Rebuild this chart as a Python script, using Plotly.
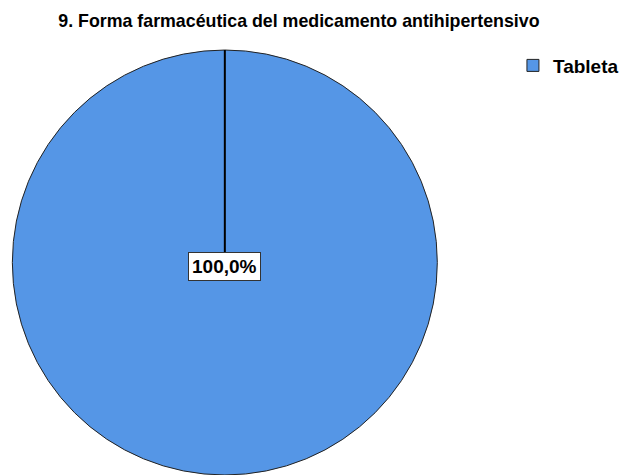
import plotly.graph_objects as go

categories = ["Tableta"]
values = [100.0]
colors = ["#5596E6"]
title_text = "9. Forma farmacéutica del medicamento antihipertensivo"

W, H = 624, 475
dom_x = [0.0, 0.7276]
dom_y = [0.0, 0.8947]

total = sum(values)
labels_pct = [f"{100*v/total:.1f}".replace(".", ",") + "%" for v in values]

fig = go.Figure(go.Pie(
    labels=["<b>" + c + "</b>" for c in categories], values=values,
    marker=dict(colors=colors, line=dict(color="#222222", width=1)),
    textinfo="none", sort=False, direction="clockwise", rotation=0,
    domain=dict(x=dom_x, y=dom_y), hoverinfo="label+percent",
    showlegend=True,
))

cx = (dom_x[0] + dom_x[1]) / 2
cy = (dom_y[0] + dom_y[1]) / 2
r_paper = (dom_y[1] - dom_y[0]) / 2
# radial separator from centre to top of pie
fig.add_shape(type="line", xref="paper", yref="paper",
              x0=cx, y0=cy, x1=cx, y1=cy + r_paper,
              line=dict(color="black", width=2))
fig.add_annotation(x=cx, y=cy - 0.008, xref="paper", yref="paper",
                   text="<b>" + labels_pct[0] + "</b>", showarrow=False,
                   font=dict(family="Liberation Sans, Arial", size=19, color="black"),
                   bgcolor="white", bordercolor="#333333", borderwidth=1, borderpad=3)

fig.update_layout(
    width=W, height=H,
    margin=dict(l=0, r=0, t=0, b=0),
    paper_bgcolor="white", plot_bgcolor="white",
    title=dict(text="<b>" + title_text + "</b>", x=0.479, xanchor="center", y=0.956, yanchor="middle",
               font=dict(family="Liberation Sans, Arial", size=17.8, color="black")),
    legend=dict(x=0.83, y=0.902, xanchor="left", yanchor="top",
                font=dict(family="Liberation Sans, Arial", size=19, color="black"),
                itemwidth=30),
    showlegend=True,
)

fig.write_html("out.html", config={"displayModeBar": False},
               post_script="document.body.style.margin='0';")
